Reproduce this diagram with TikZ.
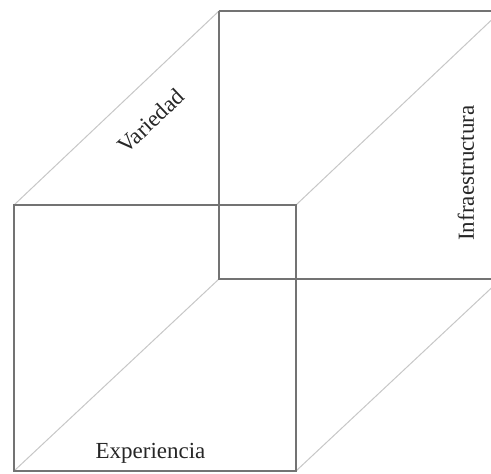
\documentclass[tikz,border=0pt]{standalone}
\usepackage{fontspec}
\setmainfont{Liberation Serif}
\begin{document}
\begin{tikzpicture}[x=1pt,y=-1pt,
  edge/.style={draw=black!55,line width=1.3pt},
  diag/.style={draw=black!22,line width=1pt},
  lbl/.style={font=\fontsize{23}{26}\selectfont,inner sep=0pt,text=black!85}]
\useasboundingbox (0,0) rectangle (491,474);
\clip (0,0) rectangle (491,474);
% front square
\coordinate (ftl) at (14,205);
\coordinate (ftr) at (296,205);
\coordinate (fbl) at (14,471);
\coordinate (fbr) at (296,471);
% back square
\coordinate (btl) at (219,11);
\coordinate (btr) at (501,11);
\coordinate (bbl) at (219,279);
\coordinate (bbr) at (501,279);
% diagonals
\draw[diag] (ftl) -- (btl);
\draw[diag] (ftr) -- (btr);
\draw[diag] (fbl) -- (bbl);
\draw[diag] (fbr) -- (bbr);
% squares
\draw[edge] (btl) -- (btr) (btl) -- (bbl) -- (bbr);
\draw[edge] (ftl) rectangle (fbr);
% labels
\node[lbl,rotate=43.3] (var) at (151,121) {Variedad};
\node[lbl,rotate=90] (inf) at (466,173) {Infraestructura};
\node[lbl,anchor=base] (exp) at (150.5,458) {Experiencia};
\end{tikzpicture}
\end{document}
